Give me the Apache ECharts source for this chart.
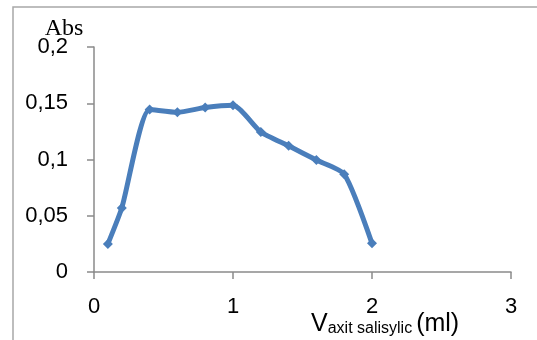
<!DOCTYPE html>
<html>
<head>
<meta charset="utf-8">
<script src="https://cdn.jsdelivr.net/npm/echarts@6/dist/echarts.min.js"></script>
<style>
html,body{margin:0;padding:0;background:#fff;}
#c{width:537px;height:340px;}
</style>
</head>
<body>
<div id="c"></div>
<script>
// Data
const volumes = [0.1, 0.2, 0.4, 0.6, 0.8, 1.0, 1.2, 1.4, 1.6, 1.8, 2.0];
const absorbance = [0.025, 0.057, 0.1445, 0.142, 0.1462, 0.1482, 0.1245, 0.1122, 0.0995, 0.087, 0.0255];
const xTicks = [0, 1, 2, 3];
const yTicks = [0, 0.05, 0.1, 0.15, 0.2];

const points = volumes.map((v, i) => [v, absorbance[i]]);
const chart = echarts.init(document.getElementById('c'));
const sans = 'Liberation Sans, Arial, sans-serif';
const axisCol = '#8a8a8a';

chart.setOption({
  animation: false,
  backgroundColor: '#fff',
  graphic: [{
    type: 'rect', z: -1, silent: true,
    shape: { x: 13, y: 7, width: 560, height: 360 },
    style: { fill: 'none', stroke: '#a8a8a8', lineWidth: 1.5 }
  }],
  title: {
    left: 311, top: 312, padding: 0,
    text: '{v|V}{s|axit salisylic}{m|(ml)}',
    textStyle: {
      fontWeight: 'normal',
      rich: {
        v: { fontFamily: sans, fontSize: 25, lineHeight: 25, fontWeight: 'normal', color: '#000', verticalAlign: 'bottom' },
        s: { fontFamily: sans, fontSize: 16, lineHeight: 20, fontWeight: 'normal', color: '#000', verticalAlign: 'bottom', padding: [0, 4, 0, 0] },
        m: { fontFamily: sans, fontSize: 25, lineHeight: 25, fontWeight: 'normal', color: '#000', verticalAlign: 'bottom' }
      }
    }
  },
  grid: { left: 94, right: 26, top: 47, bottom: 68, containLabel: false },
  xAxis: {
    type: 'value', min: xTicks[0], max: xTicks[xTicks.length - 1], interval: 1,
    axisLine: { show: true, lineStyle: { color: axisCol, width: 1.5 } },
    axisTick: { show: true, length: 7, lineStyle: { color: axisCol, width: 1.5 } },
    axisLabel: { fontFamily: sans, fontSize: 22, color: '#000', margin: 24,
      formatter: v => xTicks.includes(v) ? String(v) : '' },
    splitLine: { show: false }
  },
  yAxis: {
    type: 'value', min: yTicks[0], max: yTicks[yTicks.length - 1], interval: 0.05,
    name: 'Abs', nameLocation: 'end', nameGap: 6, nameMoveOverlap: false,
    nameTextStyle: { fontFamily: 'Liberation Serif, Times New Roman, serif', fontSize: 24, color: '#000', padding: [0, 60, 0, 0] },
    axisLine: { show: true, lineStyle: { color: axisCol, width: 1.5 } },
    axisTick: { show: true, length: 7, lineStyle: { color: axisCol, width: 1.5 } },
    axisLabel: { fontFamily: sans, fontSize: 22, color: '#000', margin: 26,
      formatter: v => String(Math.round(v * 100) / 100).replace('.', ',') },
    splitLine: { show: false }
  },
  series: [{
    type: 'line',
    data: points,
    smooth: 0.2,
    symbol: 'diamond',
    symbolSize: 10,
    lineStyle: { color: '#4a7ebb', width: 5 },
    itemStyle: { color: '#4a7ebb' }
  }]
});
</script>
</body>
</html>
